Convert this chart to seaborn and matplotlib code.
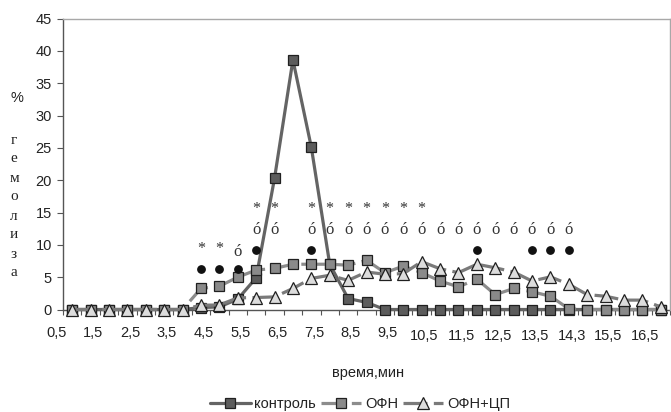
import numpy as np
import pandas as pd
import matplotlib
matplotlib.use("Agg")
import matplotlib.pyplot as plt
import seaborn as sns
from matplotlib.lines import Line2D
import matplotlib.transforms as mtransforms

# ---- data ----
control = [0, 0, 0, 0, 0, 0, 0, 0.3, 0.4, 1.6, 4.9, 20.3, 38.6, 25.1, 7.0, 1.7, 1.1,
           0, 0, 0, 0, 0, 0, 0, 0, 0, 0, 0, 0, 0, 0, 0, 0]
ofn = [0, 0, 0, 0, 0, 0, 0, 3.25, 3.6, 5.0, 6.1, 6.35, 7.0, 7.0, 7.0, 6.85, 7.6,
       5.7, 6.7, 5.7, 4.4, 3.5, 4.7, 2.3, 3.25, 2.75, 2.05, 0.1, 0, 0, 0, 0, 0]
ofn_cp = [0, 0, 0, 0, 0, 0, 0, 0.66, 0.7, 1.8, 1.85, 1.95, 3.25, 4.8, 5.3, 4.5, 5.8,
          5.45, 5.55, 7.4, 6.3, 5.7, 7.0, 6.45, 5.8, 4.4, 5.05, 3.9, 2.3, 2.05, 1.45, 1.45, 0.4]
series_names = ["контроль", "ОФН", "ОФН+ЦП"]
tick_labels = ["0,5", "1,5", "2,5", "3,5", "4,5", "5,5", "6,5", "7,5", "8,5", "9,5",
               "10,5", "11,5", "12,5", "13,5", "14,3", "15,5", "16,5"]
tick_positions = [-1, 1, 3, 5, 7, 9, 11, 13, 15, 17, 19, 21, 23, 25, 27, 29, 31]

# significance marks: (position, level)
stars_hi = [10, 11, 13, 14, 15, 16, 17, 18, 19]
stars_lo = [7, 8]
acc_hi = [10, 11, 13, 14, 15, 16, 17, 18, 19, 20, 21, 22, 23, 24, 25, 26, 27]
acc_lo = [9]
dots_hi = [10, 13, 22, 25, 26, 27]
dots_lo = [7, 8, 9]
star_hi_y, star_lo_y = 15.6, 9.4
acc_hi_y, acc_lo_y = 12.3, 8.9
dot_hi_y, dot_lo_y = 9.2, 6.2

n = len(control)
pos = np.arange(n)
df = pd.DataFrame({"pos": np.tile(pos, 3),
                   "value": control + ofn + ofn_cp,
                   "series": np.repeat(series_names, n)})

sns.set_style("white")
plt.rcParams["font.family"] = ["Liberation Sans", "DejaVu Sans"]

fig = plt.figure(figsize=(6.71, 4.12), dpi=100)
ax = fig.add_axes([63 / 671, 1 - 309.5 / 412, (670 - 63) / 671, (309.5 - 18.5) / 412])

styles = {
    "контроль": dict(color="#646464", marker="s", mfc="#5c5c5c", ms=7.8, ls="-"),
    "ОФН": dict(color="#8c8c8c", marker="s", mfc="#8a8a8a", ms=7.8, ls=(0, (7.5, 2.0))),
    "ОФН+ЦП": dict(color="#7a7a7a", marker="^", mfc="#dcdcdc", ms=9.0, ls=(0, (7.5, 2.0))),
}
for i, name in enumerate(series_names):
    st = styles[name]
    sub = df[df["series"] == name]
    sns.lineplot(data=sub, x="pos", y="value", ax=ax, color=st["color"], lw=2.3,
                 linestyle=st["ls"],
                 marker=st["marker"], markersize=st["ms"], markerfacecolor=st["mfc"],
                 markeredgecolor="#202020", markeredgewidth=0.9, zorder=3 + i,
                 legend=False, clip_on=False)

ax.set_xlim(-0.5, n - 0.5)
ax.set_ylim(0, 45)
ax.set_yticks(np.arange(0, 46, 5))
ax.set_yticklabels([str(v) for v in range(0, 46, 5)], fontsize=10.5, color="#222222")
ax.set_xticks([])
ax.set_xticks(np.arange(-0.5, n, 1.0), minor=True)
ax.tick_params(axis="x", which="minor", length=3.5, width=0.8, color="#555555", direction="out", bottom=True)
ax.tick_params(axis="y", length=4, width=0.8, color="#555555", direction="out", left=True, pad=4)
ax.set_xlabel("")
ax.set_ylabel("")

for s in ["left", "bottom"]:
    ax.spines[s].set_color("#555555")
    ax.spines[s].set_linewidth(1.0)
for s in ["top", "right"]:
    ax.spines[s].set_color("#a8a8a8")
    ax.spines[s].set_linewidth(1.0)
ax.spines["bottom"].set_zorder(2)

# x tick labels (Excel style, every second category)
trans = mtransforms.blended_transform_factory(ax.transData, fig.transFigure)
for k, (p, lab) in enumerate(zip(tick_positions, tick_labels)):
    yy = 1 - (333 if k < 10 else 335.5) / 412
    ax.text(p + 0.15, yy, lab, transform=trans, ha="center", va="center",
            fontsize=10.5, color="#222222")

# significance marks
serif = ["Liberation Serif", "DejaVu Serif"]
for p in stars_hi:
    ax.text(p, star_hi_y, "*", ha="center", va="center", fontsize=11.5, family=serif, color="#333333")
for p in stars_lo:
    ax.text(p, star_lo_y, "*", ha="center", va="center", fontsize=11.5, family=serif, color="#333333")
for p in acc_hi:
    ax.text(p, acc_hi_y, "ó", ha="center", va="center", fontsize=12, family=serif, color="#333333")
for p in acc_lo:
    ax.text(p, acc_lo_y, "ó", ha="center", va="center", fontsize=12, family=serif, color="#333333")
ax.scatter(dots_hi, [dot_hi_y] * len(dots_hi), s=28, color="#111111", zorder=6, clip_on=False)
ax.scatter(dots_lo, [dot_lo_y] * len(dots_lo), s=28, color="#111111", zorder=6, clip_on=False)

# vertical y label
fig.text(17 / 671, 1 - 98 / 412, "%", ha="center", va="center", fontsize=10.5, color="#222222")
ylab_letters = ["г", "е", "м", "о", "л", "и", "з", "а"]
for k, ch in enumerate(ylab_letters):
    fig.text(14 / 671, 1 - (140 + 19.0 * k) / 412, ch, ha="center", va="center",
             fontsize=11, family=serif, color="#222222")

# x label
fig.text(368 / 671, 1 - 373 / 412, "время,мин", ha="center", va="center", fontsize=10.5, color="#222222")

# legend
handles = []
for name in series_names:
    st = styles[name]
    handles.append(Line2D([0], [0], color=st["color"], lw=2.3, linestyle=st["ls"],
                          marker=st["marker"],
                          markersize=st["ms"] - 1.0, markerfacecolor=st["mfc"],
                          markeredgecolor="#202020", markeredgewidth=0.9))
fig.legend(handles, series_names, loc="center", bbox_to_anchor=(360 / 671, 1 - 404 / 412),
           ncol=3, frameon=False, fontsize=10.5, handlelength=2.8, columnspacing=0.3,
           handletextpad=0.25, labelcolor="#222222", borderpad=0, borderaxespad=0)

fig.savefig("out.png", dpi=100)
